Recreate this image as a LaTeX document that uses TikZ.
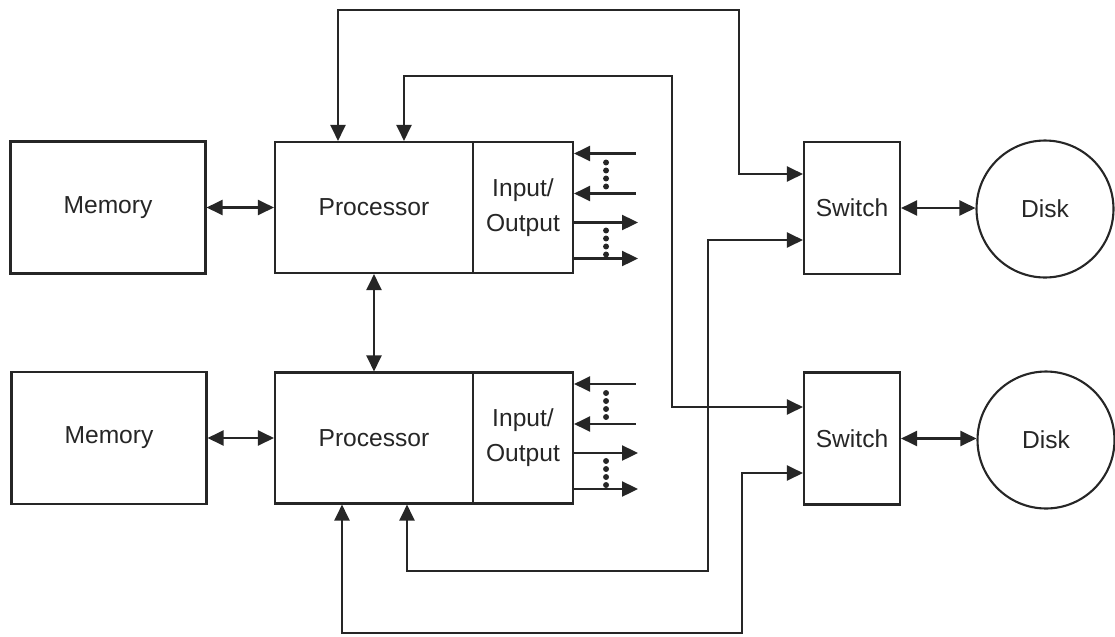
\documentclass[tikz,border=0pt]{standalone}
\usepackage{fontspec}
\setmainfont{Liberation Sans}
\usetikzlibrary{arrows.meta,calc}
\tikzset{>={Triangle[length=0.32cm,width=0.3cm]}}
\tikzset{
  box/.style={draw, rectangle, inner sep=0pt, align=center},
  membox/.style={box, minimum width=3.9cm, minimum height=2.64cm},
  procbox/.style={box, minimum width=3.96cm, minimum height=2.62cm},
  iobox/.style={box, minimum width=2cm, minimum height=2.62cm},
  switchbox/.style={box, minimum width=1.92cm, minimum height=2.64cm},
  diskcircle/.style={draw, circle, inner sep=0pt, minimum size=2.74cm},
}

\begin{document}
\begin{tikzpicture}[x=0.02cm, y=-0.02cm, line width=1.2pt, color=black!85,
    font=\fontsize{14}{20}\selectfont]
  \useasboundingbox (0,0) rectangle (1115,636);
  % upper row
  \node[membox] (mem1) at (108,207.5) {Memory};
  \node[procbox] (proc1) at (374,207.5) {Processor};
  \node[iobox] (io1) at (523,207.5) {Input/\\Output};
  \node[switchbox] (sw1) at (852,208) {Switch};
  \node[diskcircle] (disk1) at (1045,209) {Disk};
  % lower row
  \node[membox] (mem2) at (109,438) {Memory};
  \node[procbox] (proc2) at (374,438) {Processor};
  \node[iobox] (io2) at (523,438) {Input/\\Output};
  \node[switchbox] (sw2) at (852,438.5) {Switch};
  \node[diskcircle] (disk2) at (1046,440) {Disk};

  \draw[<->] (mem1.east) -- (mem1.east -| proc1.west);
  \draw[<->] (mem2.east) -- (mem2.east -| proc2.west);
  \draw[<->] (proc1.south) -- (proc2.north);
  \draw[<->] (sw1.east) -- (sw1.east -| disk1.west);
  \draw[<->] (sw2.east) -- (sw2.east -| disk2.west);

  % I/O lines
  \foreach \n in {1,2} {
    \foreach \dy in {-54,-14}
      \draw[<-] ($(io\n.east)+(0,\dy)$) -- ++(62,0);
    \foreach \dy in {15,51}
      \draw[->] ($(io\n.east)+(0,\dy)$) -- ++(64,0);
    \foreach \dy in {-45,-37,-29,-21,23,31,39,47}
      \fill ($(io\n.east)+(32,\dy)$) circle (1.7pt);
  }

  % processor to switch links
  \draw[<->] (338,0 |- proc1.north) -- (338,10) -| (739,174) -- (sw1.west |- 0,174);
  \draw[<->] (404,0 |- proc1.north) -- (404,76) -| (672,407) -- (sw2.west |- 0,407);
  \draw[<->] (407,0 |- proc2.south) -- (407,571) -| (708,240) -- (sw1.west |- 0,240);
  \draw[<->] (342,0 |- proc2.south) -- (342,633) -| (742,473) -- (sw2.west |- 0,473);
\end{tikzpicture}
\end{document}
